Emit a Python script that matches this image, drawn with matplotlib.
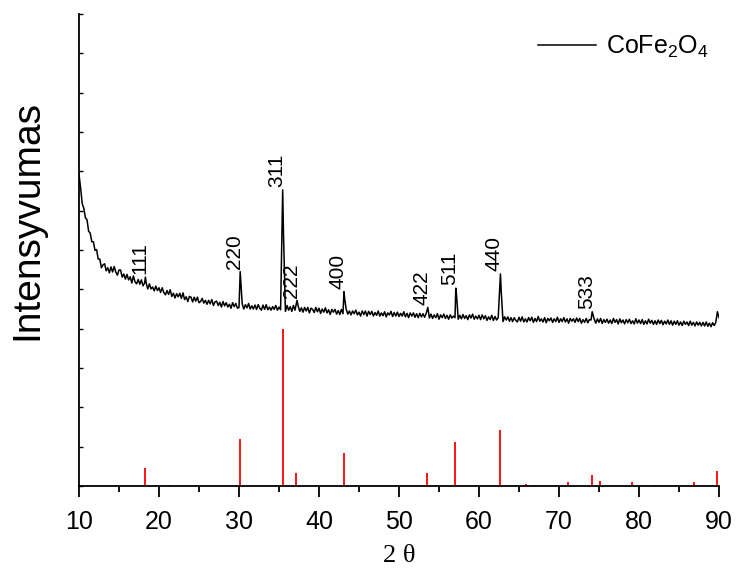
import numpy as np
import matplotlib
matplotlib.use("Agg")
import matplotlib.pyplot as plt
from matplotlib.ticker import MultipleLocator

plt.rcParams["font.family"] = ["Liberation Sans", "DejaVu Sans"]
plt.rcParams["mathtext.fontset"] = "custom"
plt.rcParams["mathtext.rm"] = "Liberation Sans"
plt.rcParams["mathtext.it"] = "Liberation Sans:italic"

# Measured pattern, 2-theta scan from 10 to 90 deg in 0.2 deg steps (arb. units)
intensity = [
    7.92, 7.58, 7.18, 7.06, 6.82, 6.77, 6.48, 6.43, 6.21, 6.21,
    5.99, 6.01, 5.77, 5.77, 5.55, 5.62, 5.65, 5.47, 5.55, 5.42,
    5.57, 5.44, 5.58, 5.44, 5.36, 5.49, 5.49, 5.31, 5.39, 5.26,
    5.38, 5.24, 5.32, 5.16, 5.34, 5.19, 5.14, 5.25, 5.13, 5.24,
    5.09, 5.16, 5.16, 5.01, 5.14, 5.01, 5.06, 4.96, 5.08, 4.97,
    5.04, 4.92, 5.04, 4.92, 4.86, 4.97, 4.87, 4.99, 4.82, 4.90,
    4.78, 4.89, 4.81, 4.90, 4.77, 4.91, 4.74, 4.81, 4.69, 4.82,
    4.80, 4.68, 4.80, 4.70, 4.80, 4.66, 4.69, 4.77, 4.65, 4.72,
    4.62, 4.72, 4.63, 4.74, 4.59, 4.68, 4.70, 4.59, 4.67, 4.55,
    4.69, 4.58, 4.66, 4.55, 4.62, 4.52, 4.66, 4.56, 4.64, 4.52,
    4.54, 4.58, 4.63, 4.50, 4.61, 4.53, 4.64, 4.50, 4.58, 4.50,
    4.60, 4.49, 4.61, 4.52, 4.47, 4.60, 4.49, 4.61, 4.48, 4.55,
    4.47, 4.56, 4.49, 4.59, 4.47, 4.55, 4.48, 4.52, 4.52, 4.44,
    4.59, 4.47, 4.56, 4.44, 4.59, 4.47, 4.50, 4.57, 4.44, 4.53,
    4.42, 4.54, 4.45, 4.54, 4.40, 4.52, 4.49, 4.41, 4.54, 4.43,
    4.52, 4.39, 4.50, 4.42, 4.53, 4.40, 4.48, 4.36, 4.49, 4.42,
    4.49, 4.37, 4.46, 4.36, 4.49, 4.38, 4.42, 4.49, 4.37, 4.45,
    4.35, 4.45, 4.38, 4.47, 4.35, 4.42, 4.32, 4.45, 4.36, 4.45,
    4.32, 4.44, 4.36, 4.44, 4.32, 4.41, 4.34, 4.45, 4.32, 4.40,
    4.33, 4.43, 4.30, 4.40, 4.35, 4.44, 4.31, 4.41, 4.32, 4.42,
    4.31, 4.39, 4.32, 4.43, 4.30, 4.39, 4.28, 4.40, 4.32, 4.40,
    4.29, 4.38, 4.28, 4.39, 4.30, 4.38, 4.29, 4.39, 4.33, 4.27,
    4.37, 4.26, 4.35, 4.28, 4.38, 4.24, 4.35, 4.28, 4.37, 4.26,
    4.34, 4.24, 4.35, 4.27, 4.32, 4.28, 4.30, 4.24, 4.34, 4.25,
    4.36, 4.26, 4.33, 4.23, 4.35, 4.27, 4.37, 4.24, 4.32, 4.25,
    4.34, 4.23, 4.35, 4.25, 4.33, 4.21, 4.30, 4.23, 4.34, 4.21,
    4.31, 4.22, 4.28, 4.26, 4.25, 4.18, 4.30, 4.22, 4.30, 4.19,
    4.28, 4.18, 4.28, 4.21, 4.17, 4.29, 4.19, 4.30, 4.17, 4.25,
    4.17, 4.28, 4.20, 4.29, 4.16, 4.26, 4.18, 4.31, 4.19, 4.25,
    4.17, 4.28, 4.15, 4.26, 4.20, 4.27, 4.16, 4.25, 4.18, 4.29,
    4.16, 4.25, 4.18, 4.28, 4.17, 4.25, 4.14, 4.26, 4.19, 4.25,
    4.16, 4.27, 4.18, 4.26, 4.14, 4.23, 4.16, 4.26, 4.15, 4.23,
    4.22, 4.20, 4.24, 4.14, 4.25, 4.16, 4.26, 4.13, 4.23, 4.16,
    4.24, 4.14, 4.22, 4.13, 4.26, 4.16, 4.23, 4.12, 4.25, 4.15,
    4.22, 4.12, 4.23, 4.15, 4.24, 4.13, 4.20, 4.12, 4.25, 4.14,
    4.22, 4.13, 4.23, 4.11, 4.20, 4.12, 4.24, 4.14, 4.21, 4.11,
    4.20, 4.11, 4.22, 4.13, 4.21, 4.10, 4.19, 4.12, 4.22, 4.11,
    4.20, 4.09, 4.19, 4.11, 4.20, 4.09, 4.17, 4.08, 4.19, 4.11,
    4.17, 4.08, 4.19, 4.09, 4.16, 4.07, 4.17, 4.09, 4.16, 4.07,
    4.16, 4.07, 4.17, 4.06, 4.14, 4.05, 4.15, 4.08, 4.16, 4.43,
    4.28,
]
two_theta = np.linspace(10.0, 90.0, len(intensity))

# Sharp reflections of the measured pattern (Ka1 maxima and Ka2 shoulders)
peak_hkl = ["111", "220", "311", "222", "400", "422", "511", "440", "533"]
peak_2theta = [18.30, 30.15, 35.46, 37.25, 43.12, 53.60, 57.10, 62.68, 74.15]
peak_top = [5.31, 5.45, 7.53, 4.72, 4.94, 4.54, 5.03, 5.39, 4.43]
shoulder_2theta = [35.56, 43.22, 57.20, 62.78]
shoulder_top = [6.43, 4.75, 4.84, 4.94]

# Reference stick pattern for CoFe2O4
ref_2theta = [18.3, 21.2, 30.1, 35.45, 37.1, 43.1, 47.1, 48.5, 53.45, 57.0,
              62.6, 65.9, 67.0, 71.1, 74.1, 75.1, 79.1, 82.0, 83.1, 86.9, 89.8]
ref_intensity = [0.47, 0.03, 1.20, 4.00, 0.32, 0.83, 0.03, 0.03, 0.34, 1.12,
                 1.42, 0.05, 0.03, 0.11, 0.28, 0.13, 0.09, 0.03, 0.03, 0.11, 0.38]

# Merge the sharp reflections into the scan, replacing grid points they cover
extra_x = np.array(peak_2theta + shoulder_2theta)
extra_y = np.array(peak_top + shoulder_top)
keep = np.array([np.min(np.abs(extra_x - t)) > 0.09 for t in two_theta])
xs = np.concatenate([two_theta[keep], extra_x])
ys = np.concatenate([np.array(intensity)[keep], extra_y])
order = np.argsort(xs)
xs, ys = xs[order], ys[order]

fig = plt.figure(figsize=(7.36, 5.70), dpi=100)
ax = fig.add_axes([79 / 736, 1 - 486 / 570, 640 / 736, 472 / 570])

line, = ax.plot(xs, ys, color="black", lw=1.1, label="CoFe$_2$O$_4$")
ax.vlines(ref_2theta, 0, ref_intensity, color="#ff0000", lw=1.3)

for hkl, x, y in zip(peak_hkl, peak_2theta, peak_top):
    ax.annotate(hkl, (x, y), xytext=(-4.3, 2), textcoords="offset points",
                rotation=90, ha="center", va="bottom", fontsize=15)

ax.set_xlim(10, 90)
ax.set_ylim(0, 12)
for side in ("top", "right"):
    ax.spines[side].set_visible(False)
for side in ("left", "bottom"):
    ax.spines[side].set_linewidth(1.3)

ax.xaxis.set_major_locator(MultipleLocator(10))
ax.xaxis.set_minor_locator(MultipleLocator(5))
ax.tick_params(axis="x", which="major", direction="out", length=8, width=1.3,
               labelsize=18, pad=9)
ax.tick_params(axis="x", which="minor", direction="out", length=4.5, width=1.3)
ax.yaxis.set_major_locator(MultipleLocator(1))
ax.tick_params(axis="y", which="major", direction="in", length=3, width=1.0,
               labelleft=False)

fig.text(399 / 736, 1 - 556 / 570, "2 θ", fontsize=19,
         family=["Liberation Serif", "DejaVu Serif"], ha="center", va="center")
fig.text(27 / 736, 1 - 220 / 570, "Intensyvumas", rotation=90, fontsize=28,
         ha="center", va="center")

ax.legend(handles=[line], loc="upper left", frameon=False, fontsize=18,
          bbox_to_anchor=(538 / 736, 1 - 34 / 570), bbox_transform=fig.transFigure,
          borderpad=0, borderaxespad=0, handlelength=2.3, handletextpad=0.4)

fig.savefig("out.png", dpi=100)
